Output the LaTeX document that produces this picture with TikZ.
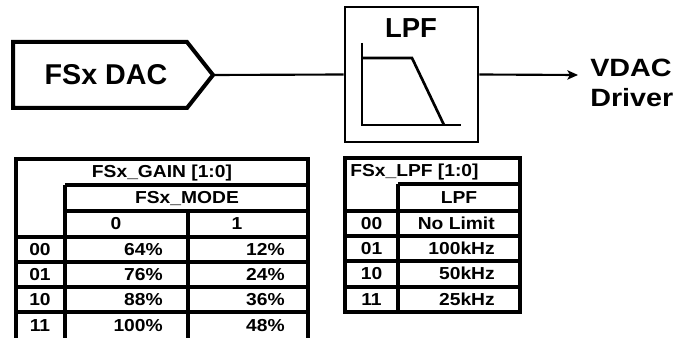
\documentclass[tikz,border=0pt]{standalone}
\usepackage{fontspec}
\setmainfont{Liberation Sans}
\newfontfamily\tabfont{Liberation Sans}[FakeStretch=1.11]
\newfontfamily\vdfont{Liberation Sans}[FakeStretch=1.15]
\usetikzlibrary{arrows.meta}
\begin{document}
\begin{tikzpicture}[x=0.75pt,y=-0.75pt,
  tline/.style={line width=2.6pt},
  ttxt/.style={font={\tabfont\bfseries\fontsize{13}{15}\selectfont},inner sep=0pt},
  ctxt/.style={ttxt,anchor=base},
  rtxt/.style={ttxt,anchor=base east},
  ltxt/.style={ttxt,anchor=base west},
  wire/.style={line width=1.6pt},
]
\useasboundingbox (0,0) rectangle (678,338);
% FSx DAC block
\coordinate (dactip) at (213,75);
\draw[line width=3pt,line join=miter] (13,42) -- (187,42) -- (dactip) -- (187,108) -- (13,108) -- cycle;
\node[font={\bfseries\fontsize{21.5}{25}\selectfont},inner sep=0pt,anchor=base] (dac) at (106,85) {FSx DAC};
% LPF block
\node[draw,line width=2.1pt,minimum width=99.75pt,minimum height=101.25pt,inner sep=0pt] (lpf) at (411.5,74.5) {};
\node[font={\bfseries\fontsize{20.6}{24}\selectfont},inner sep=0pt,anchor=base] (lpftxt) at (411,38) {LPF};
\draw[line width=2pt] (362,43) -- (362,125) -- (461,125);
\draw[line width=2pt,line join=miter] (362,58) -- (412,58) -- (444,125);
% connectors
\draw[wire] (dactip) -- (lpf.west);
\coordinate (out) at (578,75);
\draw[wire,-{Stealth[length=8pt,width=7pt,inset=2pt]}] (lpf.east) -- (out);
\node[font={\vdfont\bfseries\fontsize{18.75}{22}\selectfont},inner sep=0pt,anchor=base west] (vdac) at (590,77) {VDAC};
\node[font={\vdfont\bfseries\fontsize{18.75}{22}\selectfont},inner sep=0pt,anchor=base west] (drv) at (590,107) {Driver};
% Table 1 grid
\draw[tline] (16,338) -- (16,159) -- (308,159) -- (308,338);
\draw[tline] (65,185) -- (308,185);
\draw[tline] (65,211) -- (308,211);
\draw[tline] (65,185) -- (65,338);
\draw[tline] (188,211) -- (188,338);
\foreach \yy in {237,262,287,312} \draw[tline] (16,\yy) -- (308,\yy);
% Table 1 text
\node[ctxt] (g0) at (162,178) {FSx\_GAIN [1:0]};
\node[ctxt] (g1) at (187,204) {FSx\_MODE};
\node[ctxt] (g2) at (116,230) {0};
\node[ctxt] (g3) at (237,230) {1};
\node[ctxt] (r0) at (40,255.5) {00};
\node[ctxt] (r1) at (40,280.5) {01};
\node[ctxt] (r2) at (40,305.5) {10};
\node[ctxt] (r3) at (40,331) {11};
\node[rtxt] (a0) at (163,255.5) {64\%};
\node[rtxt] (a1) at (163,280.5) {76\%};
\node[rtxt] (a2) at (163,305.5) {88\%};
\node[rtxt] (a3) at (163,331) {100\%};
\node[rtxt] (b0) at (285,255.5) {12\%};
\node[rtxt] (b1) at (285,280.5) {24\%};
\node[rtxt] (b2) at (285,305.5) {36\%};
\node[rtxt] (b3) at (285,331) {48\%};
% Table 2 grid
\draw[tline] (345,158) rectangle (520,312);
\draw[tline] (398,184) -- (520,184);
\draw[tline] (398,184) -- (398,312);
\foreach \yy in {211,236,261,287} \draw[tline] (345,\yy) -- (520,\yy);
% Table 2 text
\node[ltxt] (l0) at (350,177) {FSx\_LPF [1:0]};
\node[ctxt] (l1) at (459,203.5) {LPF};
\node[ctxt] (s0) at (371.5,229.5) {00};
\node[ctxt] (s1) at (371.5,254.5) {01};
\node[ctxt] (s2) at (371.5,280) {10};
\node[ctxt] (s3) at (371.5,305.5) {11};
\node[rtxt] (v0) at (495,229.5) {No Limit};
\node[rtxt] (v1) at (495,254.5) {100kHz};
\node[rtxt] (v2) at (495,280) {50kHz};
\node[rtxt] (v3) at (495,305.5) {25kHz};
\end{tikzpicture}
\end{document}
